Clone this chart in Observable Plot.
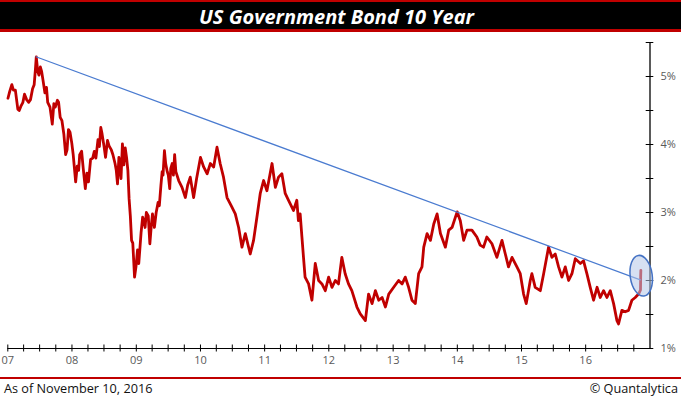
<!DOCTYPE html>
<html><head><meta charset="utf-8">
<script src="https://cdn.jsdelivr.net/npm/d3@7"></script>
<script src="https://cdn.jsdelivr.net/npm/@observablehq/plot@0.6"></script>
<style>
html,body{margin:0;padding:0;background:#fff;width:681px;height:399px;overflow:hidden}
#title{box-sizing:border-box;height:32px;background:#000;border-top:2px solid #c00000;border-bottom:3px solid #c00000;color:#fff;font:italic 700 20px "Open Sans",sans-serif;text-align:center;line-height:27px;padding-top:1px;padding-right:8px}
#chart svg{display:block}
#foot{box-sizing:border-box;margin-top:1px;border-top:2px solid #c00000;height:21px;display:flex;justify-content:space-between;font:12.7px "Open Sans",sans-serif;line-height:16px;color:#111;padding:1px 3px 0 4px}
</style></head>
<body>
<div id="title">US Government Bond 10 Year</div>
<div id="chart"></div>
<div id="foot"><span>As of November 10, 2016</span><span>© Quantalytica</span></div>
<script>
const dates = ["2007-01-02","2007-01-12","2007-01-24","2007-02-02","2007-02-13","2007-02-27","2007-03-07","2007-03-16","2007-03-28","2007-04-06","2007-04-18","2007-04-30","2007-05-10","2007-05-22","2007-05-31","2007-06-07","2007-06-12","2007-06-20","2007-06-27","2007-07-05","2007-07-12","2007-07-20","2007-07-31","2007-08-09","2007-08-16","2007-08-29","2007-09-06","2007-09-11","2007-09-20","2007-09-28","2007-10-10","2007-10-17","2007-10-26","2007-11-05","2007-11-16","2007-11-26","2007-12-04","2007-12-12","2007-12-21","2007-12-31",
"2008-01-08","2008-01-22","2008-01-31","2008-02-08","2008-02-14","2008-02-25","2008-03-05","2008-03-17","2008-03-26","2008-04-04","2008-04-16","2008-04-28","2008-05-07","2008-05-16","2008-05-28","2008-06-05","2008-06-13","2008-06-20","2008-07-01","2008-07-10","2008-07-21","2008-07-30","2008-08-12","2008-08-21","2008-09-02","2008-09-09","2008-09-16","2008-09-24","2008-10-06","2008-10-14","2008-10-22","2008-10-30","2008-11-07","2008-11-14","2008-11-21","2008-11-28","2008-12-05","2008-12-12","2008-12-22","2008-12-30",
"2009-01-08","2009-01-15","2009-01-28","2009-02-06","2009-02-13","2009-02-20","2009-02-27","2009-03-10","2009-03-19","2009-03-27","2009-04-03","2009-04-14","2009-04-24","2009-05-05","2009-05-12","2009-05-21","2009-05-28","2009-06-02","2009-06-10","2009-06-17","2009-06-26","2009-07-02","2009-07-10","2009-07-16","2009-07-24","2009-07-31","2009-08-07","2009-08-14","2009-08-30","2009-09-18","2009-10-07","2009-10-20","2009-11-04","2009-11-23","2009-12-10",
"2010-01-01","2010-01-19","2010-02-08","2010-02-26","2010-03-17","2010-04-05","2010-04-23","2010-05-12","2010-06-01","2010-06-29","2010-07-18","2010-08-06","2010-08-25","2010-09-13","2010-10-11","2010-10-30","2010-11-18","2010-12-07","2010-12-26",
"2011-01-14","2011-02-12","2011-03-03","2011-03-21","2011-04-09","2011-04-28","2011-05-17","2011-06-14","2011-07-03","2011-07-12","2011-07-22","2011-08-01","2011-08-10","2011-08-19","2011-09-08","2011-09-27","2011-10-16","2011-11-04","2011-11-23","2011-12-12","2011-12-31",
"2012-01-19","2012-02-07","2012-02-25","2012-03-15","2012-04-03","2012-04-22","2012-05-11","2012-06-09","2012-06-28","2012-07-27","2012-08-14","2012-09-03","2012-09-22","2012-10-11","2012-10-30","2012-11-18","2012-12-07",
"2013-01-04","2013-02-01","2013-02-21","2013-03-11","2013-03-30","2013-04-18","2013-05-07","2013-05-26","2013-06-14","2013-06-24","2013-07-13","2013-08-01","2013-08-20","2013-09-08","2013-09-27","2013-10-25","2013-11-13","2013-12-02","2013-12-31",
"2014-01-18","2014-02-06","2014-02-25","2014-03-25","2014-04-22","2014-05-11","2014-05-30","2014-06-18","2014-07-17","2014-08-14","2014-09-12","2014-10-01","2014-10-19","2014-11-08","2014-12-06","2014-12-25",
"2015-01-13","2015-01-28","2015-02-20","2015-03-01","2015-03-20","2015-04-18","2015-05-07","2015-06-04","2015-06-23","2015-07-12","2015-07-31","2015-08-19","2015-09-07","2015-09-26","2015-10-15","2015-11-03","2015-12-02","2015-12-20",
"2016-01-08","2016-01-27","2016-02-15","2016-03-06","2016-03-24","2016-04-12","2016-05-01","2016-05-20","2016-06-08","2016-06-27","2016-07-06","2016-07-25","2016-08-13","2016-09-01","2016-09-20","2016-10-09","2016-10-28","2016-11-08","2016-11-09","2016-11-10"];
const yields = [4.68,4.78,4.88,4.80,4.80,4.52,4.50,4.56,4.62,4.74,4.66,4.62,4.66,4.82,4.88,5.10,5.29,5.08,5.02,5.14,5.08,4.95,4.76,4.84,4.62,4.55,4.40,4.30,4.60,4.55,4.65,4.62,4.40,4.35,4.15,3.85,3.92,4.22,4.18,4.02,
3.85,3.45,3.68,3.62,3.85,3.90,3.65,3.35,3.58,3.45,3.78,3.80,3.90,3.80,4.07,3.97,4.25,4.16,3.98,3.81,4.06,3.98,3.92,3.85,3.72,3.62,3.42,3.81,3.50,4.01,3.70,3.95,3.80,3.62,3.20,2.95,2.59,2.55,2.05,2.20,
2.45,2.25,2.70,2.93,2.88,2.78,3.00,2.95,2.54,2.80,2.98,2.78,3.00,3.15,3.10,3.40,3.60,3.55,3.91,3.72,3.60,3.55,3.35,3.65,3.72,3.55,3.85,3.60,3.47,3.37,3.22,3.40,3.52,3.22,3.50,
3.81,3.67,3.57,3.72,3.67,3.96,3.72,3.52,3.22,3.08,2.98,2.78,2.49,2.69,2.39,2.59,2.93,3.28,3.47,
3.32,3.72,3.37,3.52,3.57,3.28,3.18,3.03,3.18,2.88,2.98,2.64,2.34,2.05,1.95,1.71,2.25,2.00,1.95,1.85,2.05,
1.90,2.00,1.95,2.34,2.10,1.95,1.85,1.61,1.51,1.41,1.80,1.66,1.85,1.71,1.75,1.61,1.80,
1.90,2.00,1.95,2.05,1.90,1.71,1.66,2.10,2.20,2.49,2.69,2.59,2.83,2.98,2.69,2.49,2.74,2.78,3.01,
2.88,2.59,2.74,2.74,2.64,2.52,2.49,2.64,2.54,2.34,2.59,2.39,2.20,2.34,2.20,2.10,
1.80,1.66,2.00,2.10,1.90,1.85,2.10,2.49,2.34,2.39,2.20,2.05,2.20,2.00,2.10,2.32,2.25,2.29,
2.10,1.90,1.71,1.90,1.75,1.85,1.75,1.85,1.66,1.41,1.36,1.56,1.54,1.56,1.71,1.75,1.80,1.86,2.07,2.15];

// trend line (resistance) endpoints
const trendDates = ["2007-06-10","2016-11-07"];
const trendValues = [5.29, 2.01];
// highlighted breakout
const markDate = ["2016-11-12"];
const markValue = [2.07];

const xDomain = ["2007-01-01","2017-01-01"];
const yDomain = [1, 5.5];
const yearTicks = d3.range(2007, 2017).map(y => `${y}-01-01`);
const yLabelTicks = [1, 2, 3, 4, 5];
const yMinorTicks = d3.range(1, 5.51, 0.5);

const parse = d3.utcParse("%Y-%m-%d");
const series = dates.map((d, i) => ({date: parse(d), value: yields[i]}));
const trend = trendDates.map((d, i) => ({date: parse(d), value: trendValues[i]}));
const mark = markDate.map((d, i) => ({date: parse(d), value: markValue[i]}));
const quarterTicks = d3.utcMonth.every(3).range(parse(xDomain[0]), parse(xDomain[1]));

// ellipse symbol (rotated slightly)
const ellipse = {
  draw(ctx) {
    const rx = 11, ry = 20.5, a = 8 * Math.PI / 180, k = 0.5523;
    const P = (x, y) => [x * Math.cos(a) + y * Math.sin(a), -x * Math.sin(a) + y * Math.cos(a)];
    const pts = [
      [P(rx,0)],
      [P(rx, ry*k), P(rx*k, ry), P(0, ry)],
      [P(-rx*k, ry), P(-rx, ry*k), P(-rx, 0)],
      [P(-rx, -ry*k), P(-rx*k, -ry), P(0, -ry)],
      [P(rx*k, -ry), P(rx, -ry*k), P(rx, 0)]
    ];
    ctx.moveTo(...pts[0][0]);
    for (let i = 1; i < pts.length; i++) ctx.bezierCurveTo(...pts[i][0], ...pts[i][1], ...pts[i][2]);
    ctx.closePath();
  }
};

const W = 681, H = 344, mL = 7.3, mR = 31.5, mT = 10, mB = 28;
const plotH = H - mT - mB, plotW = W - mL - mR;

const chart = Plot.plot({
  width: W, height: H,
  marginLeft: mL, marginRight: mR, marginTop: mT, marginBottom: mB,
  x: {type: "utc", domain: xDomain.map(parse), axis: null},
  y: {domain: yDomain, axis: null},
  style: {fontFamily: '"Open Sans", sans-serif', fontSize: "11px", color: "#595959", background: "white", overflow: "visible"},
  marks: [
    Plot.ruleY([yDomain[0]], {stroke: "#000", strokeWidth: 1}),
    Plot.ruleX([parse(xDomain[1])], {stroke: "#000", strokeWidth: 1.3}),
    Plot.tickX(quarterTicks, {x: d => d, stroke: "#000", insetTop: plotH - 3.5, insetBottom: -3.5}),
    Plot.tickY(yMinorTicks, {y: d => d, stroke: "#000", insetLeft: plotW - 3.8, insetRight: -3.8}),
    Plot.axisX(yearTicks.map(parse), {tickSize: 0, tickPadding: 8, tickFormat: d3.utcFormat("%y"), label: null, fill: "#595959"}),
    Plot.axisY(yLabelTicks, {anchor: "right", tickSize: 0, tickPadding: 10.5, tickFormat: d => d + "%", label: null, fill: "#595959", textAnchor: "start"}),
    Plot.line(series, {x: "date", y: "value", stroke: "#c00000", strokeWidth: 2.8, strokeLinejoin: "round"}),
    Plot.line(trend, {x: "date", y: "value", stroke: "#4a7bd0", strokeWidth: 1.2}),
    Plot.dot(mark, {x: "date", y: "value", symbol: ellipse, r: 10, fill: "#b4c7e7", fillOpacity: 0.55, stroke: "#4472c4", strokeWidth: 1.5})
  ]
});
document.getElementById("chart").append(chart);
</script>
</body></html>
